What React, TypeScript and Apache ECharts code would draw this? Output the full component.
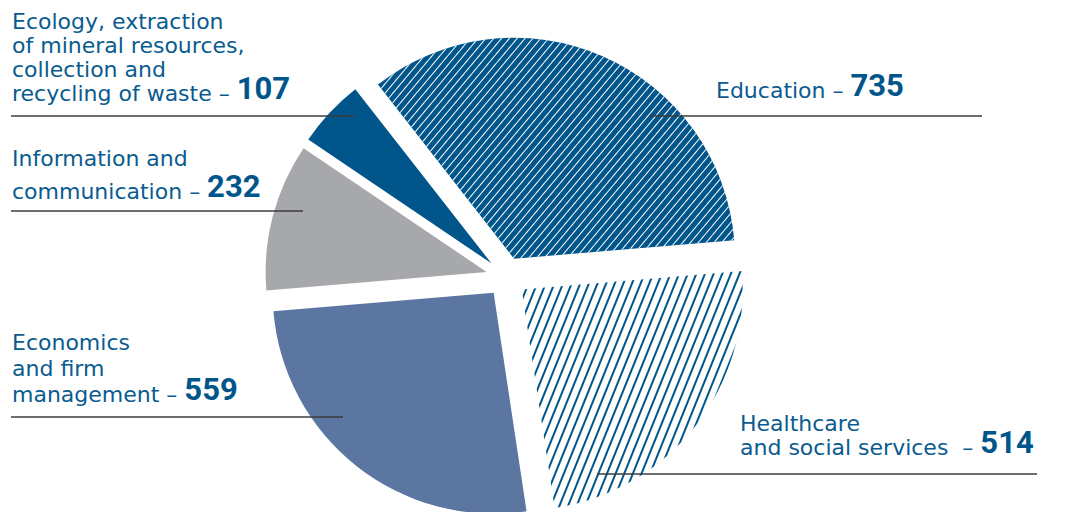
import React, { useEffect, useRef } from 'react';
import * as echarts from 'echarts';

// ---- data ----
const categories: string[] = [
  'Education',
  'Healthcare\nand social services ',
  'Economics\nand firm\nmanagement',
  'Information and\ncommunication',
  'Ecology, extraction\nof mineral resources,\ncollection and\nrecycling of waste',
];
const values: number[] = [735, 514, 559, 232, 107];

// ---- styling / layout (not data) ----
const sliceColors = ['#00558a', '#ffffff', '#5a76a1', '#a7a8ab', '#00558a'];
const TEXT_BLUE = '#0a5b8f';
const NUM_BLUE = '#00558a';
const LINE_COLOR = '#3c3c3c';

// label placement: x, y (top of block), line height, underline [x inner, x outer, y]
const labelBoxes = [
  { x: 716, y: 77, lh: 24, line: [650, 982, 116] },
  { x: 740, y: 410, lh: 24, line: [597, 1037, 474] },
  { x: 12, y: 327, lh: 26, line: [343, 11, 417] },
  { x: 12, y: 136, lh: 33, line: [303, 11, 211] },
  { x: 12, y: 8, lh: 24, line: [354, 11, 116] },
];

const deg = Math.PI / 180;
const decals: any[] = [
  {
    symbol: 'rect',
    symbolSize: 1,
    dashArrayX: [1, 0],
    dashArrayY: [1, 5],
    rotation: -50 * deg,
    color: '#ffffff',
  },
  {
    symbol: 'rect',
    symbolSize: 1,
    dashArrayX: [1, 0],
    dashArrayY: [2, 6],
    rotation: -68 * deg,
    color: '#00558a',
  },
  null,
  null,
  null,
];

function labelText(name: string, value: number): string {
  const lines = name.split('\n');
  const last = lines.length - 1;
  return lines
    .map((l, i) => (i === last ? `{t|${l} – }{n|${value}}` : `{t|${l}}`))
    .join('\n');
}

const CENTER = [506, 277];
const RADIUS = 221;
const START = 128;

export default function App() {
  const ref = useRef<HTMLDivElement>(null);

  useEffect(() => {
    document.body.style.margin = '0';
    const chart = echarts.init(ref.current!, null, { renderer: 'svg' });

    const sliceData = categories.map((name, i) => {
      const item: any = {
        name,
        value: values[i],
        selected: true,
        itemStyle: { color: sliceColors[i], borderWidth: 0 },
      };
      if (decals[i]) item.itemStyle.decal = decals[i];
      return item;
    });

    const labelData = categories.map((name, i) => {
      const lb = labelBoxes[i];
      return {
        name,
        value: values[i],
        itemStyle: { color: 'rgba(0,0,0,0)', borderWidth: 0 },
        label: {
          rich: {
            t: {
              fontFamily: 'DejaVu Sans',
              fontSize: 22,
              color: TEXT_BLUE,
              lineHeight: lb.lh,
              verticalAlign: 'bottom',
            },
            n: {
              fontFamily: 'Roboto',
              fontWeight: 'bold',
              fontSize: 31,
              color: NUM_BLUE,
              lineHeight: lb.lh,
              verticalAlign: 'bottom',
            },
          },
        },
      };
    });

    const option: any = {
      animation: false,
      backgroundColor: '#ffffff',
      series: [
        {
          type: 'pie',
          center: CENTER,
          radius: RADIUS,
          startAngle: START,
          clockwise: true,
          selectedMode: 'multiple',
          selectedOffset: 20,
          silent: true,
          emphasis: { disabled: true },
          label: { show: false },
          labelLine: { show: false },
          data: sliceData,
        },
        {
          type: 'pie',
          z: 5,
          center: CENTER,
          radius: RADIUS,
          startAngle: START,
          clockwise: true,
          selectedMode: false,
          silent: true,
          avoidLabelOverlap: false,
          emphasis: { disabled: true },
          label: {
            show: true,
            position: 'outside',
            formatter: (p: any) => labelText(p.name, p.value),
          },
          labelLine: {
            show: true,
            lineStyle: { color: LINE_COLOR, width: 1.5 },
          },
          labelLayout: (params: any) => {
            const lb = labelBoxes[params.dataIndex];
            const [xa, xb, ly] = lb.line;
            return {
              x: lb.x,
              y: lb.y,
              align: 'left',
              verticalAlign: 'top',
              labelLinePoints: [
                [xa, ly],
                [(xa + xb) / 2, ly],
                [xb, ly],
              ],
            };
          },
          data: labelData,
        },
      ],
    };

    chart.setOption(option);
    return () => chart.dispose();
  }, []);

  return <div ref={ref} style={{ width: 1065, height: 512 }} />;
}
